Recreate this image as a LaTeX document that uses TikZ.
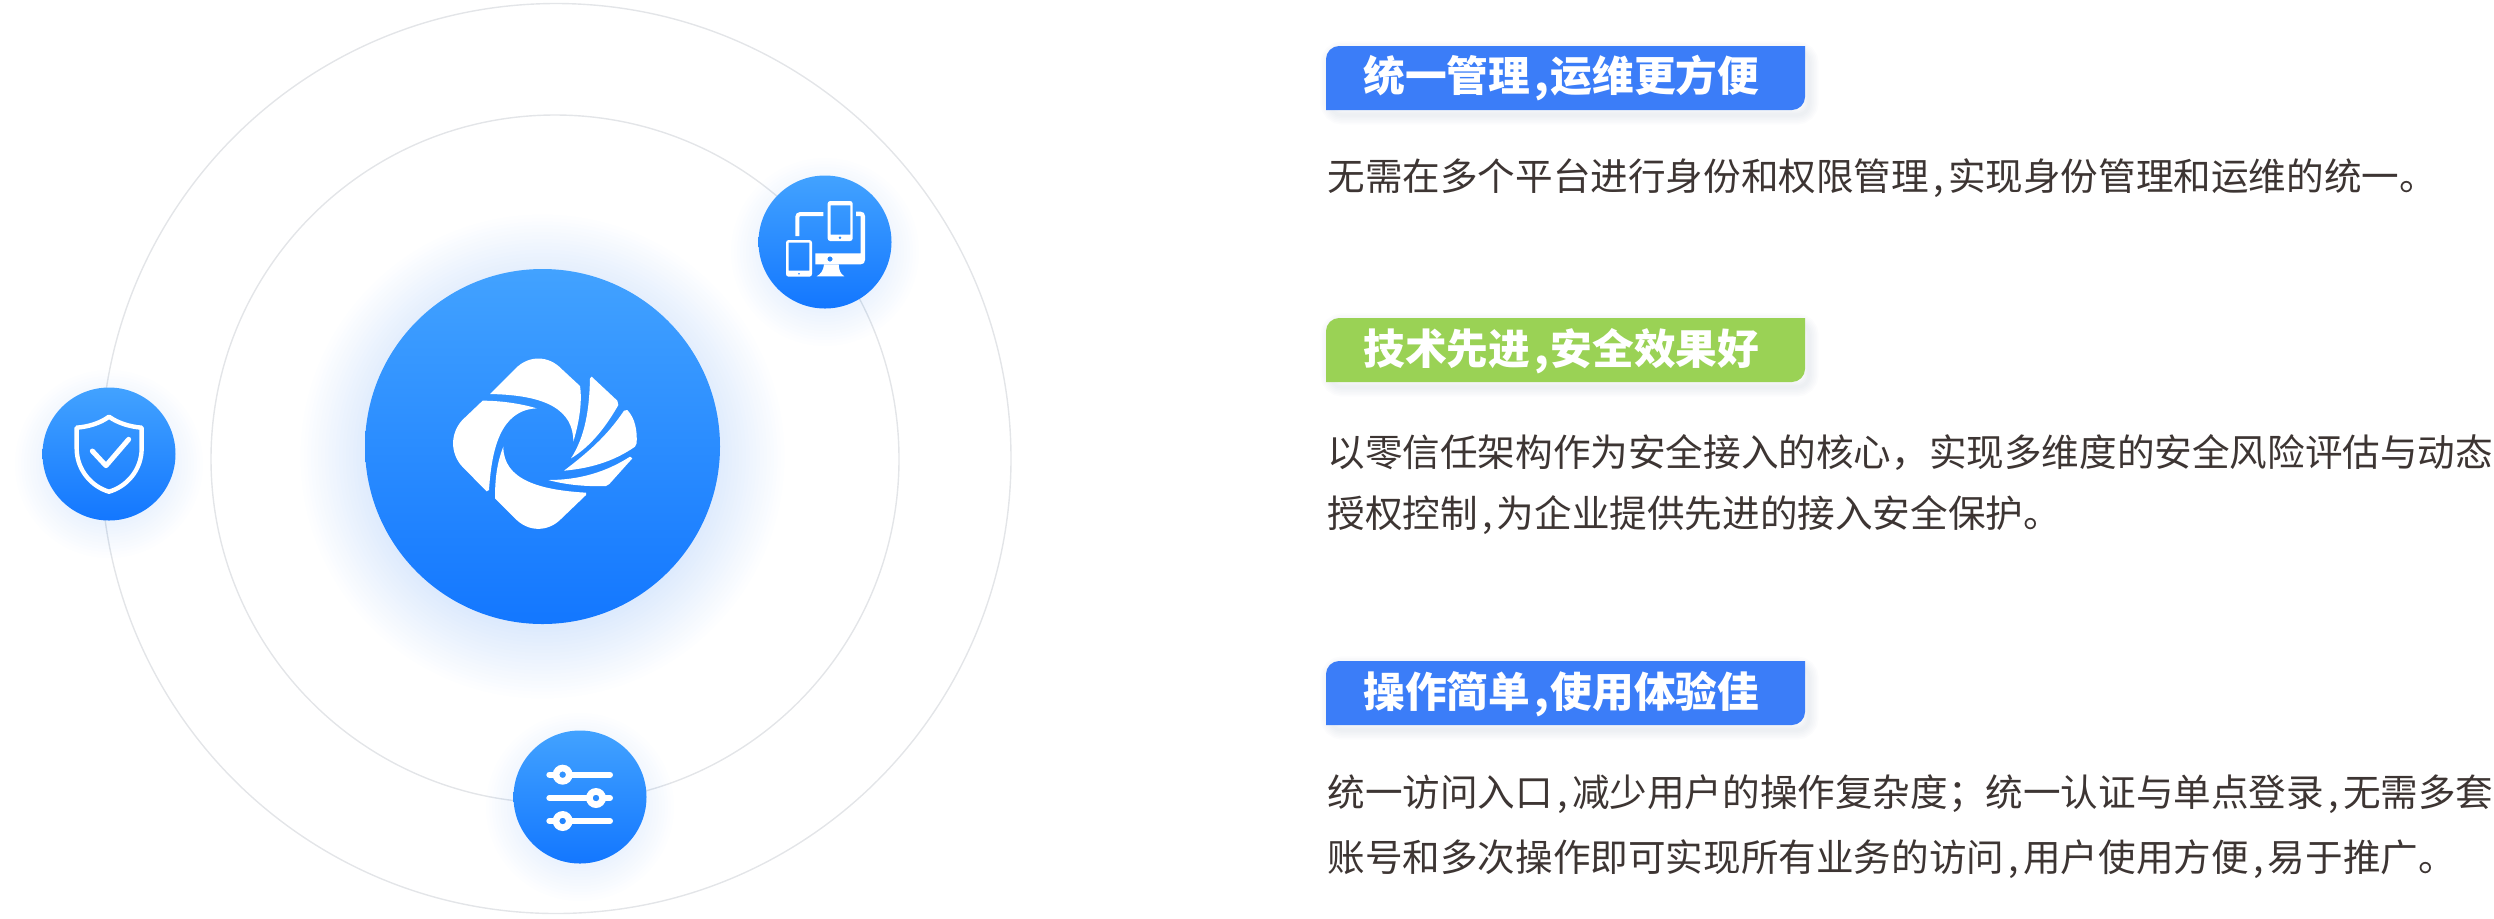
\documentclass[tikz,border=0pt]{standalone}
\usepackage{fontspec}
\usepackage{xcolor}
\usepackage{tikz}
\setmainfont{Noto Sans CJK SC}
\definecolor{tagblue}{HTML}{3B7DF8}
\definecolor{taggreen}{HTML}{9AD255}
\definecolor{discup}{HTML}{42A2FF}
\definecolor{discdown}{HTML}{1377FF}
\definecolor{ringgray}{HTML}{E3E5E8}
\definecolor{bodyink}{HTML}{3D3533}
\definecolor{glowblue}{HTML}{2F7FF0}
\definecolor{tagshade}{HTML}{98A6BC}
\newcommand*{\cma}{\hspace{0.12em},\hspace{0.11em}}
\newcommand*{\hcma}{\hspace{0.1em},\hspace{0.04em}}
\newcommand*{\glowdisc}[6]{\foreach\i in{1,...,#4}\fill[glowblue,opacity=#6](#1,{#2+10})circle[radius={#3+\i*#5}];}
\newcommand*{\tagbar}[2]{\foreach\i in{1,...,6}\draw[tagshade,opacity=0.03,line width=\i*1.6pt,rounded corners=6pt](1330,{#1+5})rectangle(1809,{#1+69});\fill[#2](1326,{#1+64})--(1326,{#1+13})..controls(1326,{#1+6})and(1332,#1)..(1339,#1)--(1805,#1)--(1805,{#1+51})..controls(1805,{#1+58})and(1799,{#1+64})..(1792,{#1+64})--cycle;}
\tikzset{
 disc/.style={circle,inner sep=0pt,shade,top color=discup,bottom color=discdown},
 tagtext/.style={anchor=west,inner sep=0pt,white,font=\fontsize{20.85}{21}\selectfont\bfseries},
 bodytext/.style={anchor=west,inner sep=0pt,bodyink,font=\fontsize{18.8}{18.8}\selectfont},
 iconline/.style={draw=white,fill=none,line cap=round,line join=round}
}

\begin{document}
\begin{tikzpicture}[x=0.5pt,y=-0.5pt]
\useasboundingbox(0,0)rectangle(2494,918);
% rings
\draw[ringgray,line width=0.7pt](556,458.5)circle[radius=455];
\draw[ringgray,line width=0.7pt](555,459)circle[radius=344];

% glow and discs
\glowdisc{542.5}{446.5}{165}{22}{3.5}{0.008}
\glowdisc{825}{242}{58}{12}{3}{0.009}
\glowdisc{109}{454}{58}{12}{3}{0.009}
\glowdisc{580}{797}{58}{12}{3}{0.009}
\node[disc,minimum size=177.5pt](hub)at(542.5,446.5){};
\node[disc,minimum size=66.5pt](devices)at(825,242){};
\node[disc,minimum size=66.5pt](shield)at(109,454){};
\node[disc,minimum size=66.5pt](sliders)at(580,797){};

% logo
\begin{scope}[shift={(170pt,-125pt)},x=0.16667pt,y=-0.16667pt]
\fill[white,line join=round](450,432)--(525,357)..controls(565,315)and(625,315)..(665,357)--(720,408)..controls(728,460)and(715,525)..(700,575)..controls(700,480)and(620,435)..(450,432)--cycle;
\fill[white](428,452)--(367,510)..controls(330,550)and(330,610)..(367,650)--(440,724)--(447,720)..controls(455,600)and(480,480)..(590,475)..controls(540,460)and(480,452)..(428,452)--cycle;
\fill[white](490,590)..controls(470,640)and(465,690)..(465,745)--(525,805)..controls(565,847)and(625,847)..(665,805)--(738,735)--(738,728)..controls(600,720)and(490,690)..(490,590)--cycle;
\fill[white](693,625)..controls(735,560)and(748,480)..(750,385)--(755,380)--(832,452)--(835,465)..controls(795,535)and(750,590)..(693,625)--cycle;
\fill[white](672,662)..controls(740,610)and(800,560)..(852,482)--(862,480)..controls(885,505)and(892,540)..(890,580)--(885,590)..controls(820,635)and(750,655)..(672,662)--cycle;
\fill[white](625,690)..controls(720,690)and(800,665)..(870,620)--(877,625)--(808,702)--(798,708)..controls(740,710)and(680,705)..(625,690)--cycle;
\end{scope}

% devices icon
\begin{scope}[shift={(370pt,-80pt)},x=0.16667pt,y=-0.16667pt]
\fill[white,even odd rule,rounded corners=1.3pt](263,123)rectangle(338,243)[sharp corners](272,136)rectangle(331,224)(300,233)circle[radius=5];
\fill[white,even odd rule,rounded corners=1.3pt](138,240)rectangle(216,350)[sharp corners](146,248)rectangle(208,332)(177,341)circle[radius=3.5];
\draw[white,line width=2pt,rounded corners=1.5pt](172,228)--(172,162)--(250,162);
\fill[white,even odd rule](348,155)--(362,155)..controls(370,155)and(375,160)..(375,168)--(375,300)..controls(375,308)and(370,313)..(362,313)--(226,313)--(226,280)--(362,280)--(362,168)--(348,168)--cycle(270,297)circle[radius=8];
\fill[white](252,313)--(296,313)..controls(297,330)and(300,340)..(313,349)--(230,349)..controls(245,340)and(250,330)..(252,313)--cycle;
\end{scope}

% shield icon
\begin{scope}[shift={(15pt,-187.5pt)},x=0.16667pt,y=-0.16667pt]
\draw[iconline,line width=2.2pt](237,125)..controls(210,145)and(175,155)..(140,158)--(140,220)..controls(140,285)and(185,335)..(237,350)..controls(290,335)and(335,285)..(335,220)--(335,158)..controls(300,155)and(265,145)..(237,125)--cycle;
\draw[iconline,line width=2.5pt](187,228)--(228,272)--(296,193);
\end{scope}

% sliders icon
\begin{scope}[shift={(250pt,-360pt)},x=0.16667pt,y=-0.16667pt]
\foreach\ya/\xa in{164/188,234/288,303/188}{
\draw[iconline,line width=3pt](148,\ya)--(\xa-24,\ya)(\xa+24,\ya)--(330,\ya);
\fill[white,even odd rule](\xa,\ya)circle[radius=30](\xa,\ya)circle[radius=10];
}
\end{scope}

% tags
\tagbar{46}{tagblue}
\tagbar{318}{taggreen}
\tagbar{661}{tagblue}
\node[tagtext](tagone)at(1363,78){统一管理\hcma 运维更方便};
\node[tagtext](tagtwo)at(1363,351){技术先进\hcma 安全效果好};
\node[tagtext](tagthree)at(1363,694){操作简单\hcma 使用体验佳};

% body lines
\node[bodytext](lineone)at(1327,178){无需在多个平台进行身份和权限管理\cma 实现身份管理和运维的统一。};
\node[bodytext](linetwo)at(1327,452){以零信任架构作为安全接入的核心，实现多维度的安全风险评估与动态};
\node[bodytext](linethree)at(1327,515){授权控制\cma 为企业提供先进的接入安全保护。};
\node[bodytext](linefour)at(1327,794){统一访问入口\cma 减少用户的操作复杂度；统一认证与单点登录\cma 无需多套};
\node[bodytext](linefive)at(1327,859){账号和多次操作即可实现所有业务的访问\cma 用户使用方便\cma 易于推广。};
\end{tikzpicture}
\end{document}
